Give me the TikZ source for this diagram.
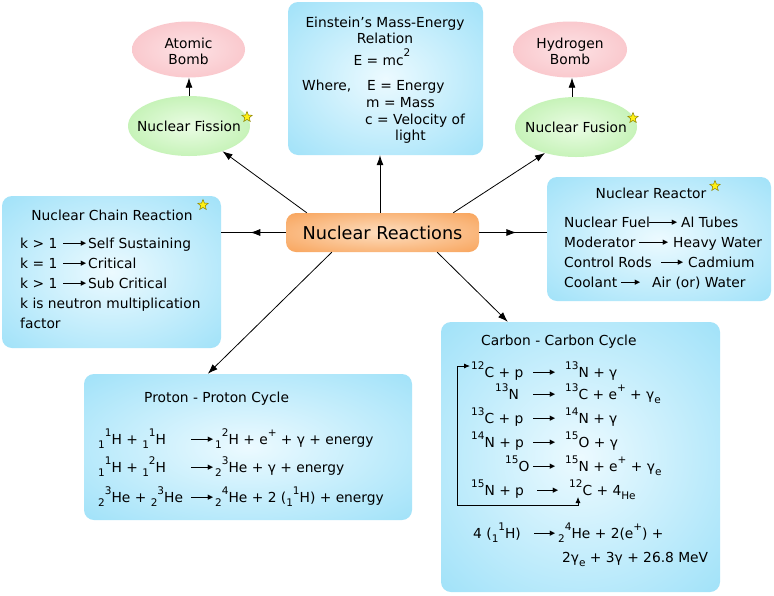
\documentclass[tikz,border=0pt]{standalone}
\usepackage{fontspec}
\setmainfont{DejaVu Sans}
\usetikzlibrary{shapes.geometric,arrows.meta,decorations.markings}
\definecolor{bxout}{RGB}{130,216,246}
\definecolor{bxin}{RGB}{236,250,255}
\definecolor{pkout}{RGB}{246,176,182}
\definecolor{pkin}{RGB}{253,226,229}
\definecolor{gnout}{RGB}{164,234,142}
\definecolor{gnin}{RGB}{234,252,228}
\definecolor{orout}{RGB}{246,140,50}
\definecolor{orin}{RGB}{253,222,192}
\definecolor{staryel}{RGB}{255,240,20}
\definecolor{staredge}{RGB}{140,130,0}
\pgfdeclareradialshading{bxshade}{\pgfpoint{0bp}{0bp}}{color(0bp)=(bxin); color(50bp)=(bxout)}
\pgfdeclareradialshading{pkshade}{\pgfpoint{0bp}{0bp}}{color(0bp)=(pkin); color(50bp)=(pkout)}
\pgfdeclareradialshading{gnshade}{\pgfpoint{0bp}{0bp}}{color(0bp)=(gnin); color(50bp)=(gnout)}
\pgfdeclareradialshading{orshade}{\pgfpoint{0bp}{0bp}}{color(0bp)=(orin); color(50bp)=(orout)}
\newcommand\sps[1]{\raisebox{0.58em}{\fontsize{10.5}{10.5}\selectfont #1}}
\newcommand\sbs[1]{\raisebox{-0.3em}{\fontsize{10.5}{10.5}\selectfont #1}}
\newcommand\tar[1][22pt]{\rule[4.6pt]{\dimexpr#1-4pt\relax}{0.8pt}\makebox[4pt][r]{\raisebox{2.4pt}{\fontsize{7}{7}\selectfont ▶}}}
\begin{document}
\begin{tikzpicture}[x=1pt,y=-1pt,
  txt/.style={inner sep=0pt, anchor=base west, font=\fontsize{13.8}{16}\selectfont},
  ttl/.style={inner sep=0pt, anchor=base, font=\fontsize{13.8}{16}\selectfont},
  elltxt/.style={inner sep=0pt, align=center, font=\fontsize{13.8}{16}\selectfont},
  bluebox/.style={rectangle, rounded corners=10pt, shading=bxshade, inner sep=0pt},
  pinkell/.style={ellipse, shading=pkshade, inner sep=0pt},
  greenell/.style={ellipse, shading=gnshade, inner sep=0pt},
  orbox/.style={rectangle, rounded corners=10pt, shading=orshade, inner sep=0pt, font=\fontsize{17.7}{20}\selectfont},
  starmark/.style={star, star points=5, star point ratio=2.3, minimum size=11pt, inner sep=0pt, fill=staryel, draw=staredge, line width=0.5pt},
  arr/.style={draw, line width=0.8pt, -{Latex[length=10pt,width=7pt]}},
  midarrow/.style={draw, line width=0.8pt, postaction={decorate},
    decoration={markings, mark=at position 0.55 with {\arrow{Latex[length=10pt,width=7pt]}}}},
  looparr/.style={draw, line width=0.8pt, {Latex[length=6pt,width=5pt]}-{Latex[length=6pt,width=5pt]}}
]
\useasboundingbox (0,0) rectangle (774,595);
\fill[white] (0,0) rectangle (774,595);

% containers
\node[bluebox, minimum width=195pt, minimum height=153pt] (ein) at (385.5,78.5) {};
\node[bluebox, minimum width=219pt, minimum height=152pt] (chain) at (111.5,272) {};
\node[bluebox, minimum width=224pt, minimum height=124pt] (reac) at (659,239) {};
\node[bluebox, minimum width=328pt, minimum height=146pt] (pp) at (248,447) {};
\node[bluebox, minimum width=279pt, minimum height=270pt] (cc) at (580.5,457) {};
\node[orbox, minimum width=193pt, minimum height=39pt] (nr) at (382.5,232.5) {Nuclear Reactions};
\node[pinkell, minimum width=113pt, minimum height=56pt] (bomb1) at (188.5,49.5) {};
\node[greenell, minimum width=122pt, minimum height=60pt] (fis) at (189,126) {};
\node[pinkell, minimum width=114pt, minimum height=56pt] (bomb2) at (570,49.5) {};
\node[greenell, minimum width=122pt, minimum height=60pt] (fus) at (576,127) {};
\node[elltxt] (bomb1t) at (188.5,51) {Atomic\\Bomb};
\node[elltxt] (fist) at (189,126.5) {Nuclear Fission};
\node[elltxt] (bomb2t) at (570,51) {Hydrogen\\Bomb};
\node[elltxt] (fust) at (576,127.5) {Nuclear Fusion};

% stars
\node[starmark] (s1) at (247,117) {};
\node[starmark] (s2) at (633,118) {};
\node[starmark] (s3) at (203,205) {};
\node[starmark] (s4) at (715,186) {};

% Einstein box
\node[ttl] (e1) at (385,27) {Einstein’s Mass-Energy};
\node[ttl] (e2) at (385,43) {Relation};
\node[ttl] (e3) at (382,65) {E = mc\sps{2}};
\node[txt] (e4) at (302,90) {Where,};
\node[txt] (e5) at (367,90) {E = Energy};
\node[txt] (e6) at (366,107) {m = Mass};
\node[txt] (e7) at (365,124) {c = Velocity of};
\node[txt] (e8) at (395,140) {light};

% Chain reaction box
\node[ttl] (c0) at (112,220) {Nuclear Chain Reaction};
\node[txt] (c1) at (20,248) {\makebox[43pt][l]{k > 1}\tar[23pt]\hspace{2pt}Self Sustaining};
\node[txt] (c2) at (20,268) {\makebox[43pt][l]{k = 1}\tar[23pt]\hspace{2pt}Critical};
\node[txt] (c3) at (20,288) {\makebox[43pt][l]{k > 1}\tar[23pt]\hspace{2pt}Sub Critical};
\node[txt] (c4) at (20,308) {k is neutron multiplication};
\node[txt] (c5) at (20,328) {factor};

% Reactor box
\node[ttl] (r0) at (651,198) {Nuclear Reactor};
\node[txt] (r1) at (564,227) {\makebox[85pt][l]{Nuclear Fuel}\tar[28pt]\hspace{4pt}Al Tubes};
\node[txt] (r2) at (564,247) {\makebox[75pt][l]{Moderator}\tar[29pt]\hspace{5pt}Heavy Water};
\node[txt] (r3) at (564,267) {\makebox[97pt][l]{Control Rods}\tar[22pt]\hspace{5pt}Cadmium};
\node[txt] (r4) at (564,287) {\makebox[57pt][l]{Coolant}\tar[19pt]\hspace{12pt}Air (or) Water};

% Proton-proton box
\node[txt] (p0) at (144,402) {Proton - Proton Cycle};
\node[txt] (p1) at (98,444) {\makebox[93pt][l]{\sbs{1}\sps{1}H + \sbs{1}\sps{1}H}\tar[22pt]\hspace{2pt}\sbs{1}\sps{2}H + e\sps{+} + γ + energy};
\node[txt] (p2) at (98,472) {\makebox[93pt][l]{\sbs{1}\sps{1}H + \sbs{1}\sps{2}H}\tar[22pt]\hspace{2pt}\sbs{2}\sps{3}He + γ + energy};
\node[txt] (p3) at (98,502) {\makebox[93pt][l]{\sbs{2}\sps{3}He + \sbs{2}\sps{3}He}\tar[22pt]\hspace{2pt}\sbs{2}\sps{4}He + 2 (\sbs{1}\sps{1}H) + energy};

% Carbon-carbon box
\node[txt] (k0) at (481,345) {Carbon - Carbon Cycle};
\node[txt] (k1) at (471,377) {\makebox[62pt][l]{\sps{12}C + p}\tar[22pt]\hspace{10pt}\sps{13}N + γ};
\node[txt] (k2) at (471,399) {\makebox[62pt][l]{\hspace{24pt}\sps{13}N}\tar[22pt]\hspace{10pt}\sps{13}C + e\sps{+} + γ\sbs{e}};
\node[txt] (k3) at (471,423) {\makebox[62pt][l]{\sps{13}C + p}\tar[22pt]\hspace{10pt}\sps{14}N + γ};
\node[txt] (k4) at (471,447) {\makebox[62pt][l]{\sps{14}N + p}\tar[22pt]\hspace{10pt}\sps{15}O + γ};
\node[txt] (k5) at (471,471) {\makebox[62pt][l]{\hspace{34pt}\sps{15}O}\tar[22pt]\hspace{10pt}\sps{15}N + e\sps{+} + γ\sbs{e}};
\node[txt] (k6) at (471,495) {\makebox[66pt][l]{\sps{15}N + p}\tar[21pt]\hspace{11pt}\sps{12}C + 4\sbs{He}};
\node[txt] (k7) at (473,538) {\makebox[61pt][l]{4 (\sbs{1}\sps{1}H)}\tar[21pt]\hspace{3pt}\sbs{2}\sps{4}He + 2(e\sps{+}) +};
\node[txt] (k8) at (562,562) {2γ\sbs{e} + 3γ + 26.8 MeV};

% loop in carbon cycle
\coordinate (lpA) at (578,497);
\coordinate (lpB) at (470,366);
\draw[looparr] (lpA) -- ++(0,8) -| ([xshift=-13pt]lpB) -- (lpB);

% connectors
\draw[arr] (fis.north) -- (fis.north |- bomb1.south);
\draw[arr] ([xshift=-4pt]fus.north) -- ([xshift=-4pt]fus.north |- bomb2.south);
\draw[arr] ([xshift=-2.5pt]nr.north) -- ([xshift=-2.5pt]nr.north |- ein.south);
\draw[arr] ([xshift=21pt]nr.north west) -- (fis.-37);
\draw[arr] ([xshift=-26pt]nr.north east) -- (fus.-140);
\draw[arr] ([xshift=46pt]nr.south west) -- ([xshift=124pt]pp.north west);
\draw[arr] ([xshift=-42pt]nr.south east) -- ([xshift=67pt]cc.north west);
\draw[midarrow] (nr.west) -- (nr.west -| chain.east);
\draw[midarrow] (nr.east) -- (nr.east -| reac.west);
\end{tikzpicture}
\end{document}
